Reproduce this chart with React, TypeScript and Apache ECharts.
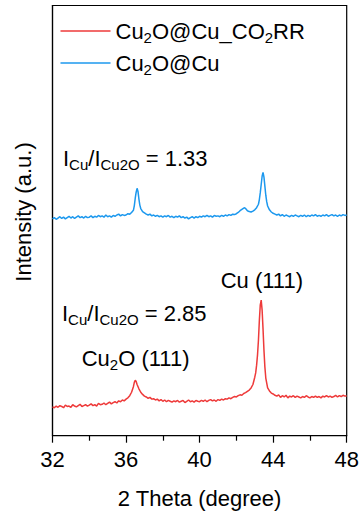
import React, { useEffect, useRef } from "react";
import * as echarts from "echarts";

const FONT = "'Liberation Sans', Arial, Helvetica, sans-serif";

const seriesNames = ["Cu2O@Cu_CO2RR", "Cu2O@Cu"];
const seriesColors = ["#EE3A3A", "#1C98EE"];
const legendRich: Record<string, string> = {
  "Cu2O@Cu_CO2RR": "{m|Cu}{s|2}{m|O@Cu_CO}{s|2}{m|RR}",
  "Cu2O@Cu": "{m|Cu}{s|2}{m|O@Cu}",
};

const xTicks = { min: 32, max: 48, interval: 4 };
const xTitle = "2 Theta (degree)";
const yTitle = "Intensity (a.u.)";

// Cu2O@Cu_CO2RR pattern: [2θ, intensity (offset a.u.)]
const redPattern: number[][] = [
  [32.0, 6.7], [32.1, 6.5], [32.2, 6.9], [32.3, 6.6], [32.4, 7.0], [32.5, 6.8], [32.6, 6.5], [32.7, 7.1], [32.8, 6.8], [32.9, 6.9],
  [33.0, 6.6], [33.1, 7.2], [33.2, 6.9], [33.3, 6.7], [33.4, 7.0], [33.5, 7.3], [33.6, 6.8], [33.7, 7.0], [33.8, 7.2], [33.9, 6.9],
  [34.0, 7.1], [34.1, 7.4], [34.2, 7.0], [34.3, 7.2], [34.4, 6.9], [34.5, 7.5], [34.6, 7.2], [34.7, 7.3], [34.8, 7.6], [34.9, 7.2],
  [35.0, 7.5], [35.1, 7.8], [35.2, 7.4], [35.3, 7.7], [35.4, 7.9], [35.5, 7.6], [35.6, 8.1], [35.7, 7.9], [35.8, 8.3], [35.9, 8.1],
  [36.0, 8.5], [36.1, 8.8], [36.2, 9.3], [36.3, 10.1], [36.4, 11.4], [36.45, 12.4], [36.5, 12.9], [36.55, 12.6], [36.6, 11.9], [36.7, 10.9], [36.8, 10.1], [36.9, 9.6],
  [37.0, 9.2], [37.1, 9.0], [37.2, 8.7], [37.3, 8.9], [37.4, 8.5], [37.5, 8.6], [37.6, 8.3], [37.7, 8.5], [37.8, 8.1], [37.9, 8.4],
  [38.0, 8.0], [38.1, 8.3], [38.2, 7.9], [38.3, 8.2], [38.4, 8.0], [38.5, 7.8], [38.6, 8.1], [38.7, 7.9], [38.8, 8.2], [38.9, 7.8],
  [39.0, 8.0], [39.1, 8.2], [39.2, 7.7], [39.3, 8.0], [39.4, 8.3], [39.5, 7.9], [39.6, 8.1], [39.7, 7.8], [39.8, 8.2], [39.9, 8.0],
  [40.0, 7.9], [40.1, 8.2], [40.2, 8.0], [40.3, 8.3], [40.4, 7.9], [40.5, 8.2], [40.6, 8.4], [40.7, 8.1], [40.8, 8.3], [40.9, 8.0],
  [41.0, 8.4], [41.1, 8.2], [41.2, 8.5], [41.3, 8.3], [41.4, 8.6], [41.5, 8.5], [41.6, 8.8], [41.7, 8.6], [41.8, 8.9], [41.9, 9.1],
  [42.0, 9.0], [42.1, 9.3], [42.2, 9.5], [42.3, 9.4], [42.4, 9.8], [42.5, 10.0], [42.6, 10.3], [42.7, 10.6], [42.8, 11.1], [42.9, 11.9],
  [43.0, 13.6], [43.05, 14.6], [43.1, 16.4], [43.15, 18.8], [43.2, 22.2], [43.25, 26.8], [43.3, 30.4], [43.35, 31.5], [43.4, 29.2], [43.45, 24.8],
  [43.5, 19.9], [43.55, 16.0], [43.6, 13.4], [43.7, 11.1], [43.8, 10.4], [43.9, 9.9],
  [44.0, 9.7], [44.1, 9.4], [44.2, 9.2], [44.3, 9.5], [44.4, 8.9], [44.5, 9.3], [44.6, 9.0], [44.7, 9.4], [44.8, 8.8], [44.9, 9.2],
  [45.0, 9.0], [45.1, 9.3], [45.2, 8.9], [45.3, 9.2], [45.4, 9.0], [45.5, 8.8], [45.6, 9.1], [45.7, 8.9], [45.8, 9.3], [45.9, 9.0],
  [46.0, 8.8], [46.1, 9.1], [46.2, 8.9], [46.3, 9.2], [46.4, 8.9], [46.5, 9.1], [46.6, 8.8], [46.7, 9.2], [46.8, 9.0], [46.9, 9.3],
  [47.0, 9.0], [47.1, 9.2], [47.2, 8.9], [47.3, 9.1], [47.4, 9.4], [47.5, 9.0], [47.6, 9.3], [47.7, 9.1], [47.8, 9.4], [47.9, 9.2],
  [48.0, 9.2],
];

// Cu2O@Cu pattern: [2θ, intensity (offset a.u.)]
const bluePattern: number[][] = [
  [32.0, 50.4], [32.1, 50.7], [32.2, 50.3], [32.3, 50.6], [32.4, 50.9], [32.5, 50.5], [32.6, 50.8], [32.7, 50.4], [32.8, 50.7], [32.9, 51.0],
  [33.0, 50.6], [33.1, 50.9], [33.2, 50.5], [33.3, 50.8], [33.4, 51.1], [33.5, 50.7], [33.6, 50.9], [33.7, 50.6], [33.8, 51.0], [33.9, 50.7],
  [34.0, 50.8], [34.1, 51.1], [34.2, 50.7], [34.3, 51.0], [34.4, 50.8], [34.5, 51.2], [34.6, 50.9], [34.7, 51.1], [34.8, 50.8], [34.9, 51.3],
  [35.0, 50.9], [35.1, 51.1], [35.2, 50.8], [35.3, 51.2], [35.4, 51.0], [35.5, 51.3], [35.6, 51.5], [35.7, 51.1], [35.8, 51.4], [35.9, 51.2],
  [36.0, 51.3], [36.1, 51.6], [36.2, 51.5], [36.3, 51.9], [36.4, 52.4], [36.45, 53.5], [36.5, 55.2], [36.55, 56.6], [36.6, 57.5], [36.65, 56.8],
  [36.7, 55.0], [36.75, 53.6], [36.8, 52.8], [36.9, 52.1],
  [37.0, 51.8], [37.1, 51.5], [37.2, 51.3], [37.3, 51.5], [37.4, 51.1], [37.5, 51.3], [37.6, 51.0], [37.7, 51.2], [37.8, 50.9], [37.9, 51.1],
  [38.0, 50.8], [38.1, 51.1], [38.2, 50.9], [38.3, 51.2], [38.4, 50.8], [38.5, 51.0], [38.6, 50.7], [38.7, 51.0], [38.8, 50.8], [38.9, 51.1],
  [39.0, 50.7], [39.1, 50.9], [39.2, 50.6], [39.3, 50.8], [39.4, 50.4], [39.5, 50.7], [39.6, 50.9], [39.7, 50.6], [39.8, 50.9], [39.9, 50.7],
  [40.0, 51.0], [40.1, 50.8], [40.2, 51.1], [40.3, 50.9], [40.4, 51.2], [40.5, 50.9], [40.6, 51.1], [40.7, 50.8], [40.8, 51.2], [40.9, 51.0],
  [41.0, 51.1], [41.1, 50.9], [41.2, 51.2], [41.3, 51.0], [41.4, 51.3], [41.5, 51.1], [41.6, 51.4], [41.7, 51.2], [41.8, 51.5], [41.9, 51.4],
  [42.0, 51.6], [42.1, 51.9], [42.2, 52.3], [42.3, 52.6], [42.4, 52.9], [42.45, 53.0], [42.5, 52.8], [42.6, 52.3], [42.7, 52.1], [42.8, 52.0], [42.9, 52.2],
  [43.0, 52.5], [43.1, 53.0], [43.2, 53.8], [43.25, 54.9], [43.3, 56.5], [43.35, 58.4], [43.4, 60.3], [43.45, 61.2], [43.5, 60.1], [43.55, 58.0],
  [43.6, 55.9], [43.65, 54.4], [43.7, 53.4], [43.8, 52.5], [43.9, 52.0],
  [44.0, 51.7], [44.1, 51.5], [44.2, 51.3], [44.3, 51.5], [44.4, 51.1], [44.5, 51.4], [44.6, 51.0], [44.7, 51.3], [44.8, 51.1], [44.9, 50.9],
  [45.0, 51.2], [45.1, 51.0], [45.2, 51.3], [45.3, 51.1], [45.4, 50.9], [45.5, 51.2], [45.6, 51.0], [45.7, 51.3], [45.8, 50.9], [45.9, 51.2],
  [46.0, 51.0], [46.1, 51.3], [46.2, 51.1], [46.3, 51.4], [46.4, 51.0], [46.5, 51.2], [46.6, 51.0], [46.7, 51.3], [46.8, 51.1], [46.9, 51.4],
  [47.0, 51.0], [47.1, 51.2], [47.2, 51.4], [47.3, 51.1], [47.4, 51.3], [47.5, 51.0], [47.6, 51.3], [47.7, 51.1], [47.8, 51.4], [47.9, 51.2],
  [48.0, 51.3],
];

const annotations = [
  { text: "{m|I}{s|Cu}{m|/I}{s|Cu2O}{m| = 1.33}", x: 63, y: 158.4 },
  { text: "{m|I}{s|Cu}{m|/I}{s|Cu2O}{m| = 2.85}", x: 62, y: 313.1 },
  { text: "{m|Cu}{s|2}{m|O (111)}", x: 81.7, y: 358.4 },
  { text: "{m|Cu (111)}", x: 220.7, y: 280.4 },
];

const rich = {
  m: { fontSize: 22, lineHeight: 28, fontFamily: FONT, color: "#000", fill: "#000" },
  s: { fontSize: 15, lineHeight: 12, verticalAlign: "bottom", fontFamily: FONT, color: "#000", fill: "#000" },
};

export default function App() {
  const ref = useRef<HTMLDivElement>(null);
  useEffect(() => {
    document.body.style.margin = "0";
    if (!ref.current) return;
    const chart = echarts.init(ref.current, null, { renderer: "svg" });
    const option: any = {
      animation: false,
      backgroundColor: "#fff",
      textStyle: { fontFamily: FONT },
      grid: {
        left: 52.5,
        right: 16.3,
        top: 5.5,
        bottom: 81.3,
        show: true,
        borderColor: "#000",
        borderWidth: 1.2,
        backgroundColor: "transparent",
      },
      legend: {
        orient: "vertical",
        left: 60.5,
        top: 20,
        padding: 0,
        icon: "rect",
        itemWidth: 50,
        itemHeight: 1.6,
        itemGap: 7,
        data: seriesNames,
        formatter: (name: string) => legendRich[name] || name,
        textStyle: { fontSize: 22, fontFamily: FONT, color: "#000", rich },
      },
      xAxis: {
        type: "value",
        min: xTicks.min,
        max: xTicks.max,
        interval: xTicks.interval,
        name: xTitle,
        nameLocation: "middle",
        nameGap: 52,
        nameTextStyle: { fontSize: 22, fontFamily: FONT, color: "#000" },
        axisLine: { show: true, lineStyle: { color: "#000", width: 1.2 } },
        axisTick: { show: true, inside: false, length: 7, lineStyle: { color: "#000", width: 1.2 } },
        minorTick: { show: true, splitNumber: 2, length: 5, lineStyle: { color: "#000", width: 1.2 } },
        axisLabel: { fontSize: 22, fontFamily: FONT, color: "#000", margin: 13 },
        splitLine: { show: false },
      },
      yAxis: {
        type: "value",
        min: 0,
        max: 100,
        axisLine: { show: true, lineStyle: { color: "#000", width: 1.2 } },
        axisTick: { show: false },
        axisLabel: { show: false },
        splitLine: { show: false },
      },
      series: [
        {
          name: seriesNames[0],
          type: "line",
          data: redPattern,
          symbol: "none",
          color: seriesColors[0],
          lineStyle: { color: seriesColors[0], width: 1.5 },
        },
        {
          name: seriesNames[1],
          type: "line",
          data: bluePattern,
          symbol: "none",
          color: seriesColors[1],
          lineStyle: { color: seriesColors[1], width: 1.5 },
        },
      ],
      graphic: [
        {
          type: "text",
          x: 23,
          y: 212,
          rotation: Math.PI / 2,
          style: {
            text: yTitle,
            fontSize: 22,
            fontFamily: FONT,
            fill: "#000",
            align: "center",
            verticalAlign: "middle",
          },
        },
        ...annotations.map((a) => ({
          type: "text",
          x: a.x,
          y: a.y,
          style: {
            text: a.text,
            rich,
            fontSize: 22,
            fontFamily: FONT,
            fill: "#000",
            align: "left",
            verticalAlign: "middle",
          },
        })),
      ],
    };
    chart.setOption(option);
    return () => chart.dispose();
  }, []);
  return <div ref={ref} style={{ width: 363, height: 517 }} />;
}
